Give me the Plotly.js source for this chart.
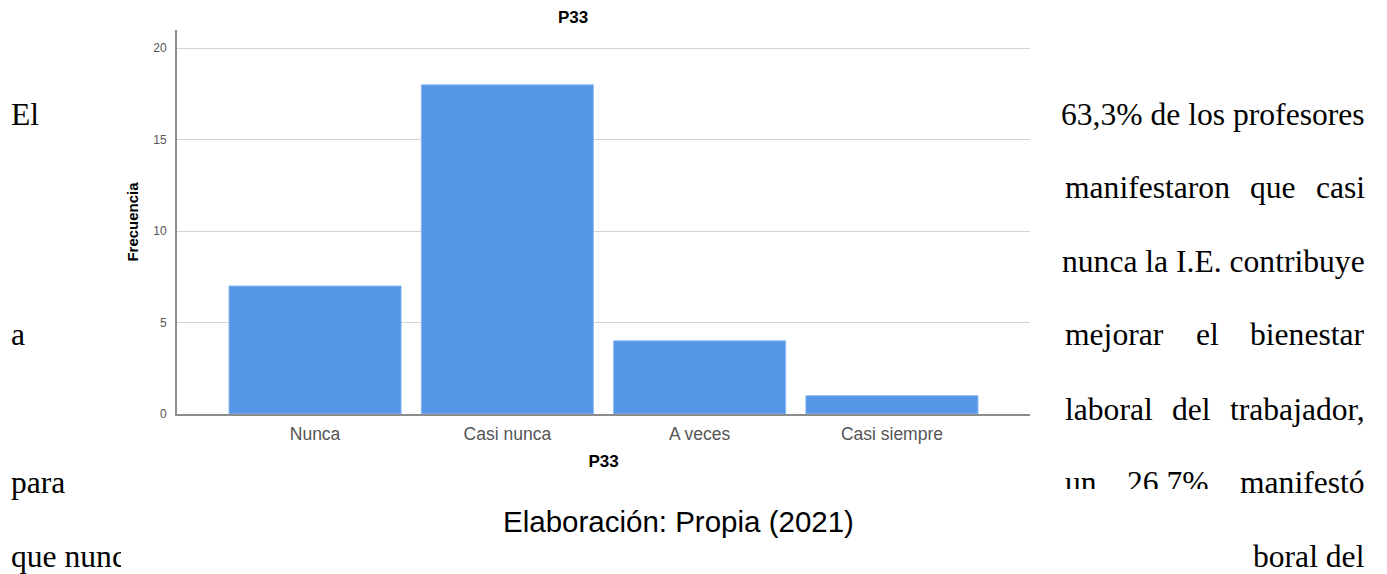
<!DOCTYPE html>
<html>
<head>
<meta charset="utf-8">
<script src="https://cdn.plot.ly/plotly-3.0.1.min.js"></script>
<style>html,body{margin:0;padding:0;background:#fff;}#chart{width:1387px;height:574px;}</style>
</head>
<body>
<div id="chart"></div>
<script>
// Data
const categories = ["Nunca", "Casi nunca", "A veces", "Casi siempre"];
const frecuencia = [7, 18, 4, 1];
const yTicks = [0, 5, 10, 15, 20];
const chartTitle = "P33";
const xTitle = "P33";
const yTitle = "Frecuencia";
const caption = "Elaboración: Propia (2021)";

// Plot frame in pixels
const W = 1387, H = 574;
const L = 177, R = 1030, T = 30, B = 414;
const px = x => (x - L) / (R - L);
const py = y => (B - y) / (B - T);

// Surrounding document text (word, x pixel, y pixel, anchor)
const docWords = [
  ["El", 9, 114, "left"],
  ["63,3% de los profesores", 1367, 114, "right"],
  ["manifestaron", 1063, 187, "left"],
  ["que", 1273, 187, "center"],
  ["casi", 1367, 187, "right"],
  ["nunca la I.E. contribuye", 1367, 261, "right"],
  ["a", 9, 334, "left"],
  ["mejorar", 1063, 334, "left"],
  ["el", 1207, 334, "center"],
  ["bienestar", 1367, 334, "right"],
  ["laboral", 1063, 409, "left"],
  ["del", 1191, 409, "center"],
  ["trabajador,", 1367, 409, "right"],
  ["para", 9, 482, "left"],
  ["un", 1063, 482, "left"],
  ["26,7%", 1168, 482, "center"],
  ["manifestó", 1367, 482, "right"],
  ["que nunca", 9, 556, "left"],
  ["boral del", 1367, 556, "right"]
];

const serif = "Liberation Serif, Times New Roman, serif";
const sans = "Liberation Sans, Arial, sans-serif";

const annotations = docWords.map(w => ({
  text: w[0], xref: "paper", yref: "paper",
  x: px(w[1]), y: py(w[2]), xanchor: w[3], yanchor: "middle",
  showarrow: false,
  font: {family: serif, size: 31.6, color: "#000"}
}));
// white caption box that hides part of the body text
annotations.push({
  text: " ", xref: "paper", yref: "paper",
  x: px((121 + 1238) / 2), y: py((489 + 574) / 2), xanchor: "center", yanchor: "middle",
  width: 1238 - 121, height: 574 - 489, bgcolor: "#fff", borderpad: 0, borderwidth: 0,
  showarrow: false, font: {family: sans, size: 10, color: "#fff"}
});
annotations.push({
  text: caption, xref: "paper", yref: "paper",
  x: px(678), y: py(521), xanchor: "center", yanchor: "middle",
  showarrow: false,
  font: {family: sans, size: 29.5, color: "#000"}
});

const trace = {
  type: "bar",
  x: categories,
  y: frecuencia,
  marker: {color: "#5596e6", line: {color: "#8fbaf0", width: 1}},
  hoverinfo: "x+y"
};

const layout = {
  width: W, height: H,
  margin: {l: L, r: W - R, t: T, b: H - B, pad: 0},
  paper_bgcolor: "#fff", plot_bgcolor: "#fff",
  showlegend: false,
  bargap: 0.105,
  title: {
    text: "<b>" + chartTitle + "</b>",
    x: px(573), xref: "paper", xanchor: "center",
    y: 1 - 17.5 / H, yref: "container", yanchor: "middle",
    font: {family: sans, size: 17, color: "#000"}
  },
  xaxis: {
    range: [-0.718, 3.718],
    showgrid: false,
    showline: true, linecolor: "#8c8c8c", linewidth: 2,
    ticks: "", ticklabelstandoff: 3,
    tickfont: {family: sans, size: 17.5, color: "#555"},
    title: {text: "<b>" + xTitle + "</b>", standoff: 12,
      font: {family: sans, size: 17, color: "#000"}},
    zeroline: false, fixedrange: true
  },
  yaxis: {
    range: [0, 21],
    tickvals: yTicks, ticktext: yTicks.map(String),
    showgrid: true, gridcolor: "#d4d4d4", gridwidth: 1,
    showline: true, linecolor: "#8c8c8c", linewidth: 2,
    ticks: "", ticklabelstandoff: 6,
    tickfont: {family: sans, size: 12, color: "#555"},
    title: {text: "<b>" + yTitle + "</b>", standoff: 11,
      font: {family: sans, size: 15, color: "#000"}},
    zeroline: false, fixedrange: true
  },
  annotations: annotations
};

Plotly.newPlot("chart", [trace], layout, {displayModeBar: false, staticPlot: true});
</script>
</body>
</html>
